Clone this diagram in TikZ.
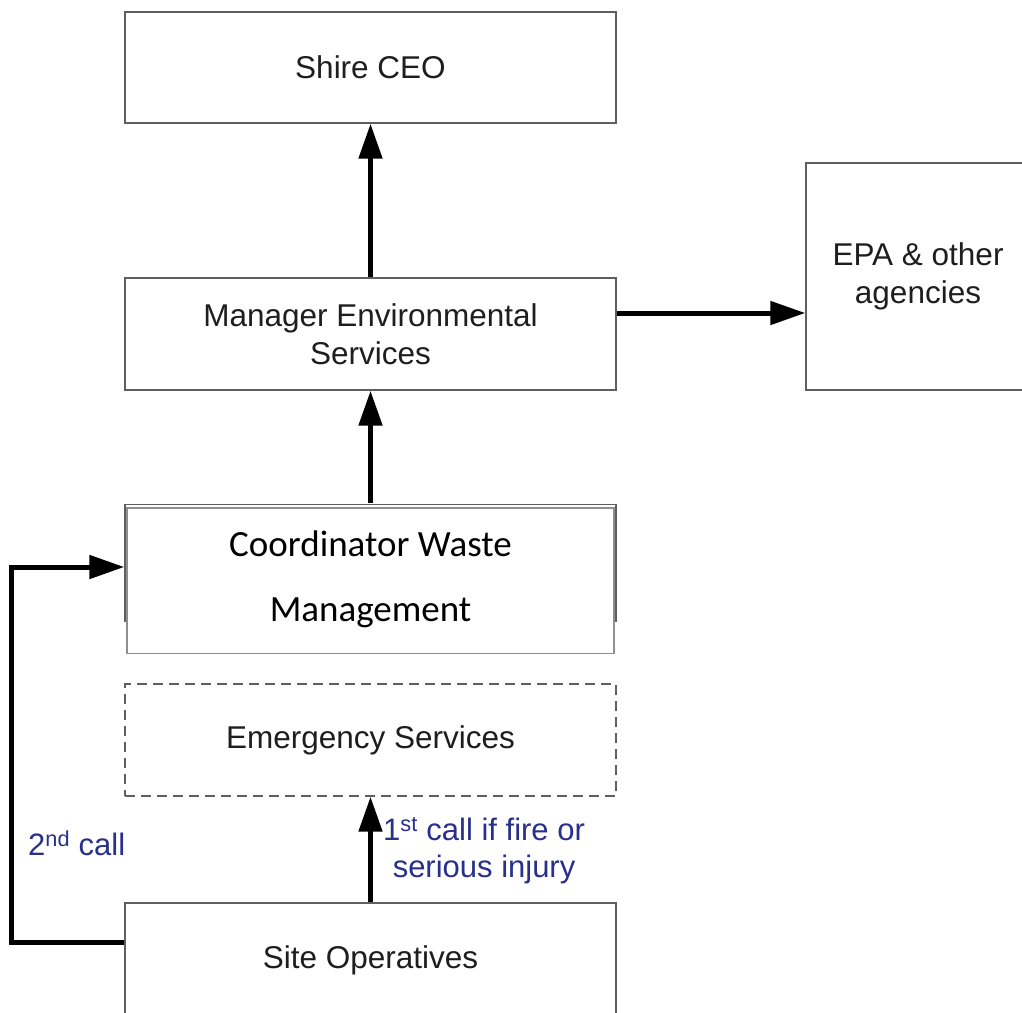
\documentclass[tikz,border=0pt]{standalone}
\usepackage{fontspec}
\setmainfont{Liberation Sans}
\newfontfamily\calib{Carlito}
\usetikzlibrary{arrows.meta,calc}
\definecolor{boxline}{RGB}{95,95,95}
\definecolor{lbl}{RGB}{40,48,140}
\definecolor{txt}{RGB}{30,30,30}
\begin{document}
\begin{tikzpicture}[x=1pt,y=-1pt,
  box/.style={draw=boxline,line width=1.4pt,rectangle,minimum width=491pt,minimum height=111pt,inner sep=0pt,align=center,text=txt,font=\fontsize{31.5}{38}\selectfont},
  conn/.style={line width=5pt,-{Triangle[length=35pt,width=23pt]}},
  lab/.style={text=lbl,font=\fontsize{31}{37}\selectfont,align=center,inner sep=0pt}]
\clip (0,0) rectangle (1022,1012);
\fill[white] (0,0) rectangle (1022,1012);
\node[box] (ceo) at (370.5,67.5) {Shire CEO};
\node[box,minimum height=112pt] (mgr) at (370.5,334) {Manager Environmental\\Services};
\node[box,minimum width=224pt,minimum height=227pt] (epa) at (918,276.5) {EPA \& other\\agencies};
\node[box,draw=none,minimum height=150pt,text=black,font=\calib\fontsize{37}{65}\selectfont] (coord) at (370.5,579) {Coordinator Waste\\Management};
\draw[boxline,line width=1.6pt] (125,622) -- (125,504.5) -- (616,504.5) -- (616,622);
\draw[boxline!70,line width=1.2pt] (127,508) rectangle (614,653.5);
\node[box,dashed,dash pattern=on 10pt off 6pt,minimum height=112pt] (emg) at (370.5,740) {Emergency Services};
\node[box,minimum height=114pt] (site) at (370.5,960) {Site Operatives};
\draw[conn] (mgr.north) -- (ceo.south);
\draw[conn] ([yshift=21pt]mgr.east) -- ([yshift=21pt]mgr.east -| epa.west);
\draw[conn] (coord.north) -- (mgr.south);
\draw[conn] (site.north) -- (emg.south);
\draw[conn] ([yshift=18pt]site.west) -- ++(-113,0) |- ([yshift=12pt]coord.west);
\node[lab,anchor=west] (l2) at (28,843) {2\textsuperscript{nd} call};
\node[lab,anchor=west] (l1) at (383,851) {1\textsuperscript{st} call if fire or\\serious injury};
\end{tikzpicture}
\end{document}
